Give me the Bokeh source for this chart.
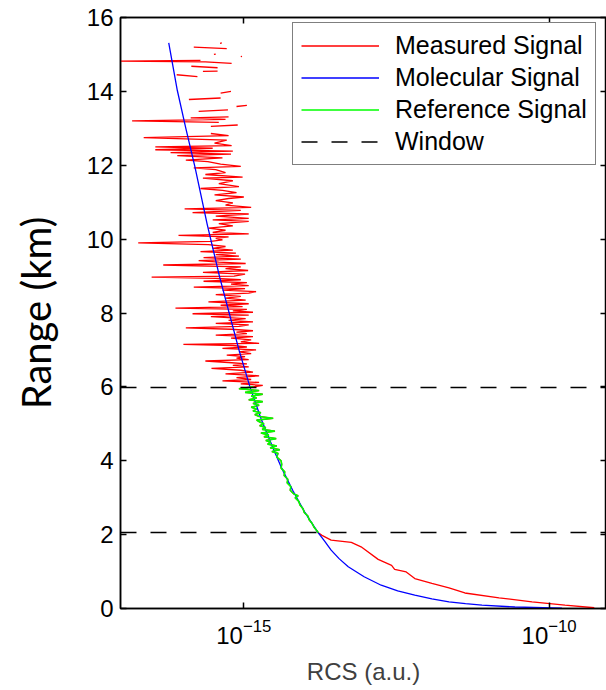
import numpy as np
from bokeh.plotting import figure
from bokeh.models import (Range1d, FixedTicker, LogAxis, LinearAxis, Legend,
                          LegendItem)
from bokeh.embed import file_html
from bokeh.resources import INLINE

nan = float("nan")

# ---------------- data ----------------
# Measured signal: range (km) and log10 of RCS (a.u.); NaN = no valid sample
measured_range_km = [
    0.02, 0.09, 0.18, 0.29, 0.42, 0.56, 0.68, 0.81, 0.99, 1.06, 1.17, 1.33,
    1.67, 1.79, 1.85, 1.98,
    2.05, 2.10, 2.20, 2.30, 2.40, 2.50, 2.60, 2.70, 2.80, 2.90, 3.00, 3.05,
    3.10, 3.20, 3.30, 3.40, 3.50, 3.60, 3.70, 3.80, 3.90, 4.00, 4.10, 4.20,
    4.25, 4.30, 4.35, 4.40, 4.45, 4.50, 4.55, 4.60, 4.65, 4.70, 4.75, 4.80,
    4.85, 4.90, 4.95, 5.00, 5.05, 5.10, 5.15, 5.20, 5.25, 5.30, 5.35, 5.40,
    5.45, 5.50, 5.55, 5.60, 5.65, 5.70, 5.75, 5.80, 5.85, 5.90, 5.95, 6.00,
    6.04, 6.08, 6.12, 6.16, 6.20, 6.25, 6.30, 6.35, 6.40, 6.45, 6.50, 6.54,
    6.58, 6.62, 6.66, 6.70, 6.74, 6.78, 6.82, 6.86, 6.90, 6.95, 7.00, 7.04,
    7.08, 7.12, 7.15, 7.18, 7.22, 7.27, 7.32, 7.36, 7.40, 7.44, 7.48, 7.52,
    7.56, 7.60, 7.64, 7.68, 7.72, 7.76, 7.80, 7.85, 7.90, 7.94, 7.98, 8.02,
    8.06, 8.10, 8.13, 8.17, 8.21, 8.25, 8.30, 8.35, 8.40, 8.45, 8.50, 8.54,
    8.58, 8.62, 8.66, 8.70, 8.74, 8.78, 8.82, 8.86, 8.90, 8.94, 8.97, 9.00,
    9.05, 9.10, 9.15, 9.20, 9.25, 9.30, 9.34, 9.38, 9.42, 9.46, 9.50, 9.54,
    9.58, 9.62, 9.66, 9.70, 9.75, 9.80, 9.85, 9.90, 9.94, 9.98, 10.02, 10.06,
    10.10, 10.14, 10.18, 10.24, 10.30, 10.36, 10.42, 10.48, 10.52, 10.56,
    10.62, 10.68, 10.72, 10.78, 10.82, 10.86, 10.92, 10.98, 11.04, 11.10,
    11.14, 11.20, 11.26, 11.32, 11.37, 11.42, 11.50, 11.58, 11.65, 11.68,
    11.75, 11.80, 11.88, 11.93, 11.97, 12.03, 12.10, 12.14, 12.20, 12.26,
    12.30, 12.34, 12.38, 12.42, 12.46, 12.50, 12.53, 12.60, 12.68, 12.75,
    12.80, 12.86, 12.90,
    13.05, 13.09, 13.12,
    13.16, 13.20, 13.24, 13.28, 13.31, 13.40,
    13.46, 13.50, 13.55,
    13.59, 13.62, 13.70,
    13.78, 13.82, 13.90,
    13.95, 14.00, 14.20,
    14.40, 14.45, 14.50,
    14.54, 14.55, 14.60,
    14.64, 14.68, 14.72,
    14.76, 14.80, 14.82, 14.84, 14.90,
    14.94, 14.95, 14.97,
    15.00, 15.01, 15.10,
    15.16, 15.20, 15.25,
    15.30, 15.31,
]
measured_log10_rcs = [
    -9.26, -9.74, -10.28, -10.82, -11.38, -11.64, -11.92, -12.20, -12.34,
    -12.53, -12.58, -12.80, -13.08, -13.24, -13.57, -13.72,
    -13.78, -13.80, -13.85, -13.88, -13.93, -13.95, -14.01, -14.03, -14.08,
    -14.10, -14.16, -14.11, -14.18, -14.24, -14.23, -14.29, -14.28, -14.34,
    -14.33, -14.39, -14.38, -14.39, -14.46, -14.44, -14.54, -14.41, -14.57,
    -14.46, -14.61, -14.56, -14.64, -14.47, -14.67, -14.59, -14.72, -14.49,
    -14.70, -14.64, -14.74, -14.67, -14.74, -14.79, -14.52, -14.75, -14.82,
    -14.72, -14.85, -14.79, -14.88, -14.75, -14.85, -14.69, -14.92, -14.79,
    -14.88, -14.69, -14.98, -14.75, -15.08, -14.85,
    -14.69, -15.05, -14.75, -15.35, -14.88, -15.12, -14.75, -15.30, -14.85,
    -15.05, -15.53, -14.92, -15.18, -14.95, -15.25, -15.63, -14.92, -15.12,
    -14.98, -15.28, -14.88, -15.08, -14.80, -15.35, -14.95, -15.18, -15.99,
    -14.75, -15.05, -14.88, -15.21, -14.85, -15.46, -14.95, -15.12, -14.85,
    -15.21, -15.95, -15.08, -14.92, -15.46, -14.85, -15.25, -14.97, -15.54,
    -14.92, -15.84, -14.85, -15.18, -14.95, -16.12, -15.02, -15.38, -14.92,
    -15.58, -14.97, -15.30, -15.05, -15.46, -14.92, -14.80, -15.35, -14.98,
    -15.82, -14.92, -15.21, -14.95, -15.66, -15.05, -15.46, -16.51, -15.16,
    -14.98, -15.67, -14.93, -15.30, -15.05, -16.32, -14.97, -15.41, -15.74,
    -15.05, -15.66, -15.08, -15.46, -15.13, -15.71, -15.18, -15.51, -15.30,
    -15.58, -16.73, -15.54, -15.35, -15.46, -15.25, -16.07, -14.92, -15.51,
    -15.30, -15.58, -15.18, -15.41, -14.92, -15.51, -14.92, -15.46, -14.92,
    -15.84, -15.05, -15.97, -14.88, -15.30, -15.18, -15.46, -15.25, -15.00,
    -15.48, -15.12, -15.35, -15.71, -15.08, -15.41, -15.18, -15.67, -15.02,
    -15.63, -15.30, -15.46, -15.82, -15.05, -15.38, -15.59, -15.95, -15.35,
    -16.09, -15.21, -16.20, -15.18, -16.45, -15.51, -16.45, -15.20, -15.48,
    -15.28, -16.64, -15.25, -15.54, nan,
    -15.54, -15.10, nan,
    -15.41, -16.83, -15.30, -15.87, -15.25, nan,
    -15.74, -15.26, nan,
    -15.12, -14.95, nan,
    -15.90, -15.38, nan,
    -15.38, -15.21, nan,
    -15.76, -16.10, nan,
    -15.67, -15.43, nan,
    -15.43, -15.86, nan,
    -15.20, -15.63, -17.06, -15.71, nan,
    -15.05, -15.03, nan,
    -15.49, -15.46, nan,
    -15.28, -15.82, nan,
    -15.39, -15.36,
]

# Molecular (modelled) signal
molecular_range_km = [0.01, 0.04, 0.09, 0.13, 0.18, 0.26, 0.36, 0.48, 0.63,
                      0.86, 1.13, 1.35, 1.58, 1.83, 2.07, 2.60, 3.20, 3.80,
                      4.30, 5.10, 6.00, 7.00, 8.00, 9.00, 10.40, 11.95,
                      13.00, 14.03, 15.31]
molecular_log10_rcs = [-9.79, -10.56, -11.10, -11.37, -11.64, -11.92, -12.20,
                       -12.48, -12.75, -13.03, -13.29, -13.44, -13.57, -13.68,
                       -13.79, -14.00, -14.20, -14.38, -14.51, -14.71, -14.90,
                       -15.08, -15.24, -15.40, -15.60, -15.80, -15.95, -16.09,
                       -16.23]

reference_span_km = [2.05, 6.00]    # part of the measured signal used as reference
window_km = [2.06, 5.98]            # calibration window limits
x_ticks = [1e-15, 1e-10]
y_ticks = [0, 2, 4, 6, 8, 10, 12, 14, 16]
x_limits = [10 ** -17.02, 10 ** -9.06]
y_limits = [0, 16]

# ---------------- derived ----------------
mr = np.array(measured_range_km)
mv = 10.0 ** np.array(measured_log10_rcs)
ref = (mr >= reference_span_km[0]) & (mr <= reference_span_km[1])
mol_r = np.array(molecular_range_km)
mol_v = 10.0 ** np.array(molecular_log10_rcs)

FONT = "Liberation Sans"

p = figure(width=606, height=690, x_axis_type="log",
           x_range=Range1d(*x_limits), y_range=Range1d(*y_limits),
           output_backend="svg", toolbar_location=None,
           min_border_left=120, min_border_right=0, min_border_top=17,
           min_border_bottom=82, background_fill_color="white",
           border_fill_color="white")
p.grid.visible = False
p.outline_line_color = "black"
p.outline_line_width = 1.5

xa = p.xaxis[0]
xa.ticker = FixedTicker(ticks=x_ticks, minor_ticks=[])
ya = p.yaxis[0]
ya.ticker = FixedTicker(ticks=y_ticks, minor_ticks=[])
for ax in (xa, ya):
    ax.major_tick_in = 6
    ax.major_tick_out = 0
    ax.minor_tick_line_color = None
    ax.axis_line_width = 1.5
    ax.major_tick_line_width = 1.5
    ax.major_label_text_font = FONT
    ax.major_label_text_font_size = "24px"
    ax.major_label_text_color = "black"
    ax.axis_label_text_font_style = "normal"
xa.major_label_standoff = 10
xa.axis_label = "RCS (a.u.)"
xa.axis_label_text_font = FONT
xa.axis_label_text_font_size = "24px"
xa.axis_label_text_color = "#404040"
xa.axis_label_standoff = 11
ya.major_label_standoff = 7
ya.axis_label = "Range (km)"
ya.axis_label_text_font = "Lato"
ya.axis_label_text_font_size = "40px"
ya.axis_label_text_color = "black"
ya.axis_label_standoff = 24

# plain box-side axes carrying only inward ticks (labels invisible)
right_axis = LinearAxis(ticker=FixedTicker(ticks=y_ticks, minor_ticks=[]),
                        major_tick_in=6, major_tick_out=0,
                        minor_tick_line_color=None, axis_line_width=1.5,
                        major_tick_line_width=1.5,
                        major_label_text_font_size="2px",
                        major_label_text_alpha=0.0,
                        major_label_standoff=0)
p.add_layout(right_axis, "right")
top_axis = LogAxis(ticker=FixedTicker(ticks=x_ticks, minor_ticks=[]),
                   major_tick_in=6, major_tick_out=0,
                   minor_tick_line_color=None, axis_line_width=1.5,
                   major_tick_line_width=1.5,
                   major_label_text_font_size="2px",
                   major_label_text_alpha=0.0,
                   major_label_standoff=0)
p.add_layout(top_axis, "above")

r_meas = p.line(mv, mr, line_color="#ff0000", line_width=1.3)
r_mol = p.line(mol_v, mol_r, line_color="#0000ff", line_width=1.3)
r_ref = p.line(mv[ref], mr[ref], line_color="#00ff00", line_width=1.6)
r_win = p.multi_line(xs=[x_limits for _ in window_km],
                     ys=[[w, w] for w in window_km],
                     line_color="black", line_width=1.5, line_dash="16 14")

legend = Legend(items=[
    LegendItem(label="Measured Signal", renderers=[r_meas]),
    LegendItem(label="Molecular Signal", renderers=[r_mol]),
    LegendItem(label="Reference Signal", renderers=[r_ref]),
    LegendItem(label="Window", renderers=[r_win]),
], location=(172, 443), orientation="vertical",
    label_text_font=FONT, label_text_font_size="25px",
    label_text_color="black", label_height=25, glyph_height=25,
    glyph_width=78, spacing=3, padding=8, margin=0, label_standoff=16,
    border_line_color="black", border_line_width=1.5,
    background_fill_color="white", background_fill_alpha=1.0)
p.add_layout(legend)

open("out.html", "w").write(file_html(p, INLINE))
